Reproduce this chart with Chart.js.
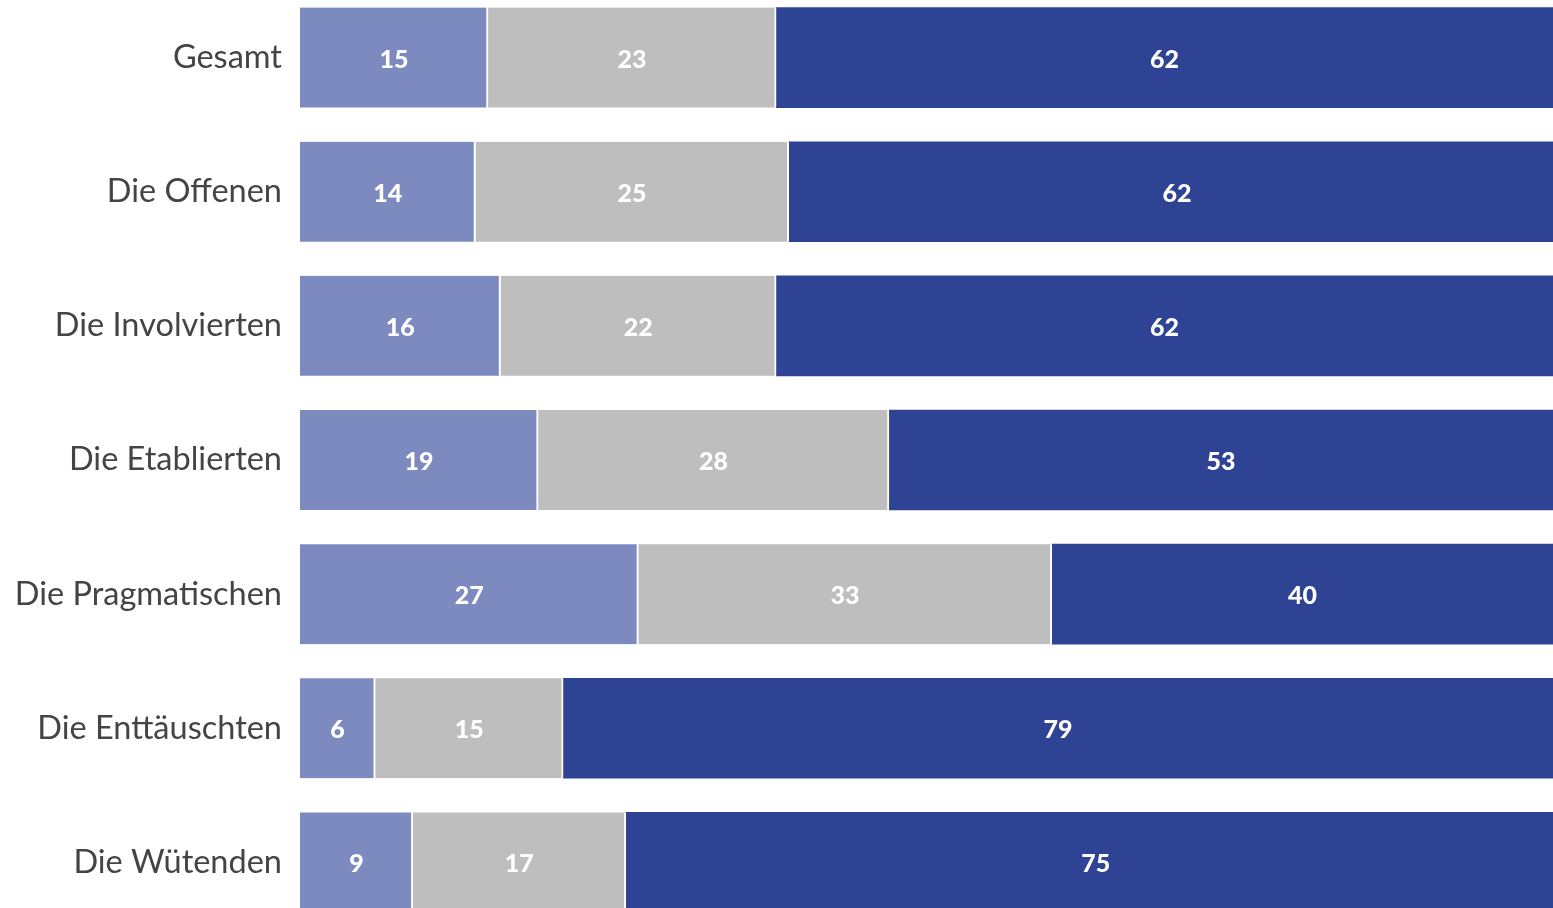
<!DOCTYPE html>
<html>
<head>
<meta charset="utf-8">
<script src="https://cdn.jsdelivr.net/npm/chart.js@4/dist/chart.umd.min.js"></script>
<style>
  html, body { margin: 0; padding: 0; background: #fff; overflow: hidden; }
  /* the tick padding adds ~37px above and below the bars, so the canvas is taller and shifted up */
  #wrap { position: absolute; left: 0; top: -47px; width: 1553px; height: 1014px; }
</style>
</head>
<body>
<div id="wrap"><canvas id="barChart"></canvas></div>
<script>
// categories and series
var categories = ["Gesamt", "Die Offenen", "Die Involvierten", "Die Etablierten", "Die Pragmatischen", "Die Enttäuschten", "Die Wütenden"];
var lightValues = [15, 14, 16, 19, 27, 6, 9];
var grayValues  = [23, 25, 22, 28, 33, 15, 17];
var darkValues  = [62, 62, 62, 53, 40, 79, 75];

var colors = ["#7d8abf", "#bebebe", "#2f4394"];

// draws the white numbers in the middle of each segment
var segmentLabels = {
  id: 'segmentLabels',
  afterDatasetsDraw: function(chart) {
    var ctx = chart.ctx;
    ctx.save();
    ctx.fillStyle = "#fff";
    ctx.font = "900 25px Lato";
    ctx.textAlign = "center";
    ctx.textBaseline = "middle";
    chart.data.datasets.forEach(function(ds, i) {
      var meta = chart.getDatasetMeta(i);
      meta.data.forEach(function(bar, j) {
        var p = bar.getCenterPoint();
        ctx.fillText(ds.data[j], p.x, p.y + 2);
      });
    });
    ctx.restore();
  }
};

// white 2px gap on the right of a segment, none on the last one
function makeSet(values, color, gap) {
  return {
    data: values,
    backgroundColor: color,
    borderColor: "#fff",
    borderWidth: {top: 0, bottom: 0, left: 0, right: gap},
    borderSkipped: false,
    barThickness: 100
  };
}

var ctx = document.getElementById("barChart");
var chart = new Chart(ctx, {
  type: "bar",
  data: {
    labels: categories,
    datasets: [
      makeSet(lightValues, colors[0], 2),
      makeSet(grayValues, colors[1], 2),
      makeSet(darkValues, colors[2], 0)
    ]
  },
  options: {
    indexAxis: "y",
    responsive: true,
    maintainAspectRatio: false,
    animation: false,
    layout: { padding: 0 },
    plugins: { legend: { display: false }, tooltip: { enabled: false } },
    scales: {
      x: { stacked: true, min: 0, max: 100, display: false },
      y: {
        stacked: true,
        grid: { display: false, drawTicks: false },
        border: { display: false },
        ticks: { color: "#444", font: { family: "Lato", size: 32.5 }, padding: 18 },
        afterFit: function(scale) { scale.width = 300; }
      }
    }
  },
  plugins: [segmentLabels]
});
</script>
</body>
</html>
